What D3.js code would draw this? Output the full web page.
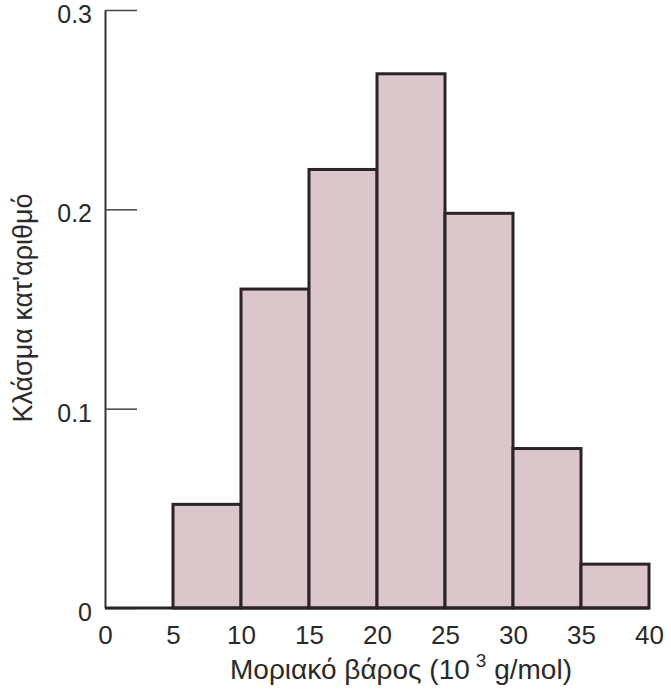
<!DOCTYPE html>
<html>
<head>
<meta charset="utf-8">
<script src="https://cdn.jsdelivr.net/npm/d3@7"></script>
<style>
  html, body { margin: 0; padding: 0; background: #ffffff; }
  svg { display: block; }
  text { font-family: "Liberation Sans", Arial, Helvetica, sans-serif; fill: #2a2a2a; }
</style>
</head>
<body>
<svg id="chart" width="671" height="696"></svg>
<script>
// Data
const binStarts = [5, 10, 15, 20, 25, 30, 35];   // 10^3 g/mol
const binWidth = 5;
const fractions = [0.052, 0.160, 0.220, 0.268, 0.198, 0.080, 0.022];
const xTicks = [0, 5, 10, 15, 20, 25, 30, 35, 40];
const yTicks = [0, 0.1, 0.2, 0.3];
const xLabel = "Μοριακό βάρος (10";
const xLabelSup = "3";
const xLabelEnd = " g/mol)";
const yLabel = "Κλάσμα κατ'αριθμό";

const svg = d3.select("#chart");
const x = d3.scaleLinear().domain([0, 40]).range([105, 649]);
const y = d3.scaleLinear().domain([0, 0.3]).range([608, 10]);

// Bars
svg.append("g")
  .selectAll("rect")
  .data(binStarts.map((s, i) => ({ s, v: fractions[i] })))
  .join("rect")
  .attr("x", d => x(d.s))
  .attr("y", d => y(d.v))
  .attr("width", d => x(d.s + binWidth) - x(d.s))
  .attr("height", d => y(0) - y(d.v))
  .attr("fill", "#dbc6cb")
  .attr("stroke", "#2b2325")
  .attr("stroke-width", 3);

// Y axis
const yAxis = d3.axisLeft(y)
  .tickValues(yTicks)
  .tickSizeInner(-32)
  .tickSizeOuter(0)
  .tickPadding(13)
  .tickFormat(d => d === 0 ? "0" : d3.format(".1f")(d));
const gy = svg.append("g").attr("transform", `translate(${x(0)},0)`).call(yAxis);
gy.select(".domain").attr("stroke", "#333").attr("stroke-width", 2);
gy.selectAll(".tick line").attr("stroke", "#444").attr("stroke-width", 1.5);
gy.selectAll(".tick text")
  .attr("font-size", 25)
  .attr("fill", "#2a2a2a")
  .attr("dy", "0.5em");

// X axis (labels only) + baseline
const xAxis = d3.axisBottom(x).tickValues(xTicks).tickSize(0).tickPadding(18);
const gx = svg.append("g").attr("transform", `translate(0,${y(0)})`).call(xAxis);
gx.select(".domain").remove();
gx.selectAll(".tick text").attr("font-size", 26).attr("fill", "#2a2a2a");

svg.append("line")
  .attr("x1", x(0)).attr("x2", x(40))
  .attr("y1", y(0)).attr("y2", y(0))
  .attr("stroke", "#2b2325").attr("stroke-width", 3);

// X label
const xl = svg.append("text")
  .attr("x", 401).attr("y", 679)
  .attr("text-anchor", "middle")
  .attr("font-size", 28);
xl.append("tspan").text(xLabel);
xl.append("tspan").attr("dy", -12).attr("dx", 6).attr("font-size", 19).text(xLabelSup);
xl.append("tspan").attr("dy", 12).text(xLabelEnd);

// Y label
svg.append("text")
  .attr("transform", "translate(32,308) rotate(-90)")
  .attr("text-anchor", "middle")
  .attr("font-size", 27)
  .text(yLabel);
</script>
</body>
</html>
